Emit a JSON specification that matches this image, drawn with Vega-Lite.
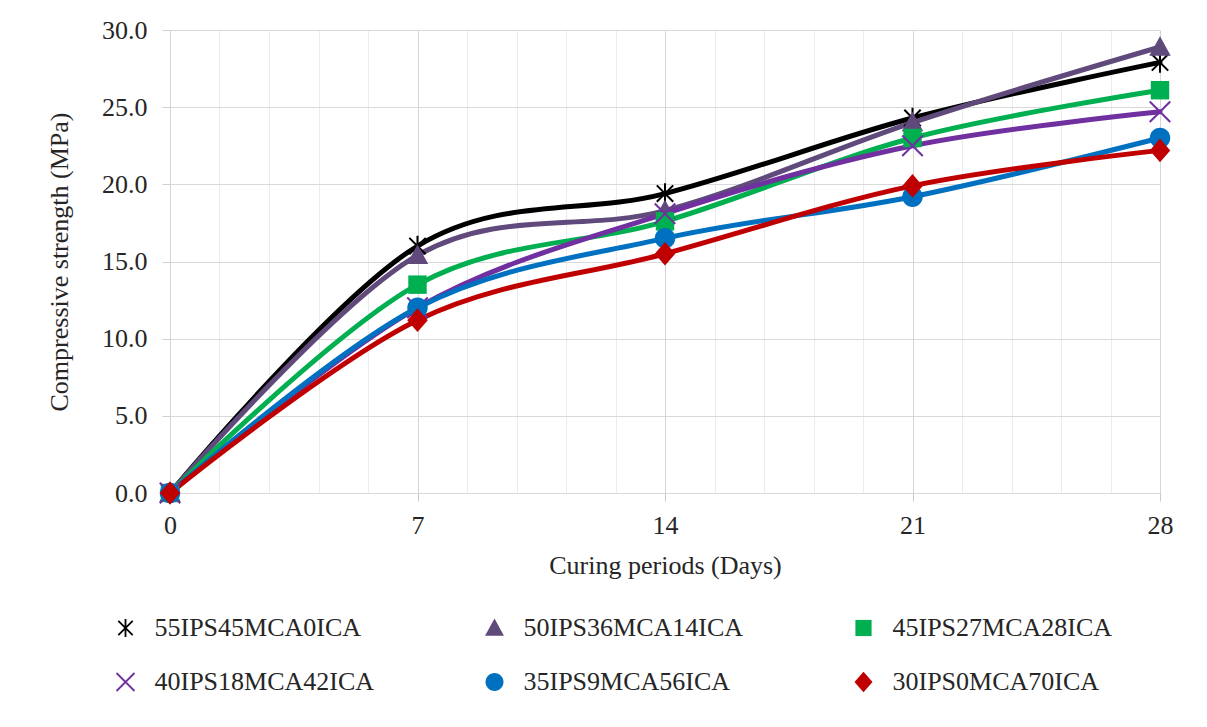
{
  "$schema": "https://vega.github.io/schema/vega-lite/v6.json",
  "width": 990,
  "height": 463,
  "autosize": {"type": "none"},
  "padding": {"left": 170, "top": 30, "right": 47, "bottom": 234},
  "background": "white",
  "config": {
    "font": "Liberation Serif",
    "view": {"stroke": null},
    "axis": {"labelFont": "Liberation Serif", "titleFont": "Liberation Serif", "labelColor": "#262626", "titleColor": "#262626", "titleFontWeight": "normal", "labelFontSize": 26, "titleFontSize": 26}
  },
  "data": {
    "values": [
      {"series": "55IPS45MCA0ICA", "day": 0, "strength": 0},
      {"series": "55IPS45MCA0ICA", "day": 7, "strength": 16.0},
      {"series": "55IPS45MCA0ICA", "day": 14, "strength": 19.4},
      {"series": "55IPS45MCA0ICA", "day": 21, "strength": 24.3},
      {"series": "55IPS45MCA0ICA", "day": 28, "strength": 27.9},
      {"series": "50IPS36MCA14ICA", "day": 0, "strength": 0},
      {"series": "50IPS36MCA14ICA", "day": 7, "strength": 15.4},
      {"series": "50IPS36MCA14ICA", "day": 14, "strength": 18.3},
      {"series": "50IPS36MCA14ICA", "day": 21, "strength": 24.0},
      {"series": "50IPS36MCA14ICA", "day": 28, "strength": 28.9},
      {"series": "45IPS27MCA28ICA", "day": 0, "strength": 0},
      {"series": "45IPS27MCA28ICA", "day": 7, "strength": 13.5},
      {"series": "45IPS27MCA28ICA", "day": 14, "strength": 17.6},
      {"series": "45IPS27MCA28ICA", "day": 21, "strength": 23.0},
      {"series": "45IPS27MCA28ICA", "day": 28, "strength": 26.1},
      {"series": "40IPS18MCA42ICA", "day": 0, "strength": 0},
      {"series": "40IPS18MCA42ICA", "day": 7, "strength": 12.0},
      {"series": "40IPS18MCA42ICA", "day": 14, "strength": 18.1},
      {"series": "40IPS18MCA42ICA", "day": 21, "strength": 22.5},
      {"series": "40IPS18MCA42ICA", "day": 28, "strength": 24.7},
      {"series": "35IPS9MCA56ICA", "day": 0, "strength": 0},
      {"series": "35IPS9MCA56ICA", "day": 7, "strength": 12.0},
      {"series": "35IPS9MCA56ICA", "day": 14, "strength": 16.5},
      {"series": "35IPS9MCA56ICA", "day": 21, "strength": 19.2},
      {"series": "35IPS9MCA56ICA", "day": 28, "strength": 23.0},
      {"series": "30IPS0MCA70ICA", "day": 0, "strength": 0},
      {"series": "30IPS0MCA70ICA", "day": 7, "strength": 11.2},
      {"series": "30IPS0MCA70ICA", "day": 14, "strength": 15.5},
      {"series": "30IPS0MCA70ICA", "day": 21, "strength": 19.9},
      {"series": "30IPS0MCA70ICA", "day": 28, "strength": 22.2}
    ]
  },
  "encoding": {
    "x": {
      "field": "day", "type": "quantitative",
      "scale": {"domain": [0, 28], "nice": false, "zero": false},
      "axis": {
        "title": "Curing periods (Days)",
        "values": [0, 1.4, 2.8, 4.2, 5.6, 7, 8.4, 9.8, 11.2, 12.6, 14, 15.4, 16.8, 18.2, 19.6, 21, 22.4, 23.8, 25.2, 26.6, 28],
        "labelExpr": "datum.value % 7 === 0 ? format(datum.value, 'd') : ''",
        "labelOverlap": false,
        "labelFlush": false,
        "labelPadding": 11,
        "titlePadding": 14,
        "domain": false,
        "grid": true,
        "gridColor": {"condition": {"test": "datum.value % 7 === 0", "value": "#d6d6d6"}, "value": "#ebebeb"},
        "gridWidth": 1,
        "ticks": true,
        "tickSize": 8,
        "tickColor": {"condition": {"test": "datum.value % 7 === 0", "value": "#c8c8c8"}, "value": "transparent"}
      }
    },
    "y": {
      "field": "strength", "type": "quantitative",
      "scale": {"domain": [0, 30], "nice": false},
      "axis": {
        "title": "Compressive strength (MPa)",
        "values": [0, 5, 10, 15, 20, 25, 30],
        "format": ".1f",
        "domain": false,
        "grid": true,
        "gridColor": "#d9d9d9",
        "ticks": true,
        "tickSize": 8,
        "tickColor": "#d0d0d0",
        "labelPadding": 15,
        "titlePadding": 29
      }
    },
    "color": {
      "field": "series", "type": "nominal",
      "scale": {
        "domain": ["55IPS45MCA0ICA", "50IPS36MCA14ICA", "45IPS27MCA28ICA", "40IPS18MCA42ICA", "35IPS9MCA56ICA", "30IPS0MCA70ICA"],
        "range": ["#000000", "#604A7B", "#00B050", "#7030A0", "#0070C0", "#C00000"]
      },
      "legend": {
        "title": null,
        "orient": "none",
        "legendX": -76,
        "legendY": 585,
        "direction": "horizontal",
        "columns": 3,
        "gridAlign": "all",
        "columnPadding": 88,
        "rowPadding": 28,
        "padding": 0,
        "labelFont": "Liberation Serif",
        "labelFontSize": 26,
        "labelColor": "#262626",
        "labelLimit": 400,
        "labelOffset": 16,
        "symbolOffset": 18.5,
        "symbolSize": 324,
        "symbolStrokeWidth": 0
      }
    }
  },
  "layer": [
    {
      "mark": {"type": "line", "interpolate": "cardinal", "strokeWidth": 5, "strokeCap": "round", "strokeJoin": "round"}
    },
    {
      "mark": {"type": "point", "filled": true, "opacity": 1, "size": 420, "strokeWidth": 0},
      "encoding": {
        "shape": {
          "field": "series", "type": "nominal",
          "scale": {
            "domain": ["55IPS45MCA0ICA", "50IPS36MCA14ICA", "45IPS27MCA28ICA", "40IPS18MCA42ICA", "35IPS9MCA56ICA", "30IPS0MCA70ICA"],
            "range": [
              "M-0.1,-1L0.1,-1L0.1,1L-0.1,1ZM-0.87,-0.73L-0.73,-0.87L0.87,0.73L0.73,0.87ZM0.87,-0.73L-0.73,0.87L-0.87,0.73L0.73,-0.87Z",
              "M0,-1.05L1.05,0.85L-1.05,0.85Z",
              "M-0.9,-0.9L0.9,-0.9L0.9,0.9L-0.9,0.9Z",
              "M-1.07,-0.93L-0.93,-1.07L1.07,0.93L0.93,1.07ZM1.07,-0.93L-0.93,1.07L-1.07,0.93L0.93,-1.07Z",
              "M-1,0A1,1 0 1,1 1,0A1,1 0 1,1 -1,0Z",
              "M0,-1.15L1,0L0,1.15L-1,0Z"
            ]
          },
          "legend": null
        }
      }
    }
  ]
}
